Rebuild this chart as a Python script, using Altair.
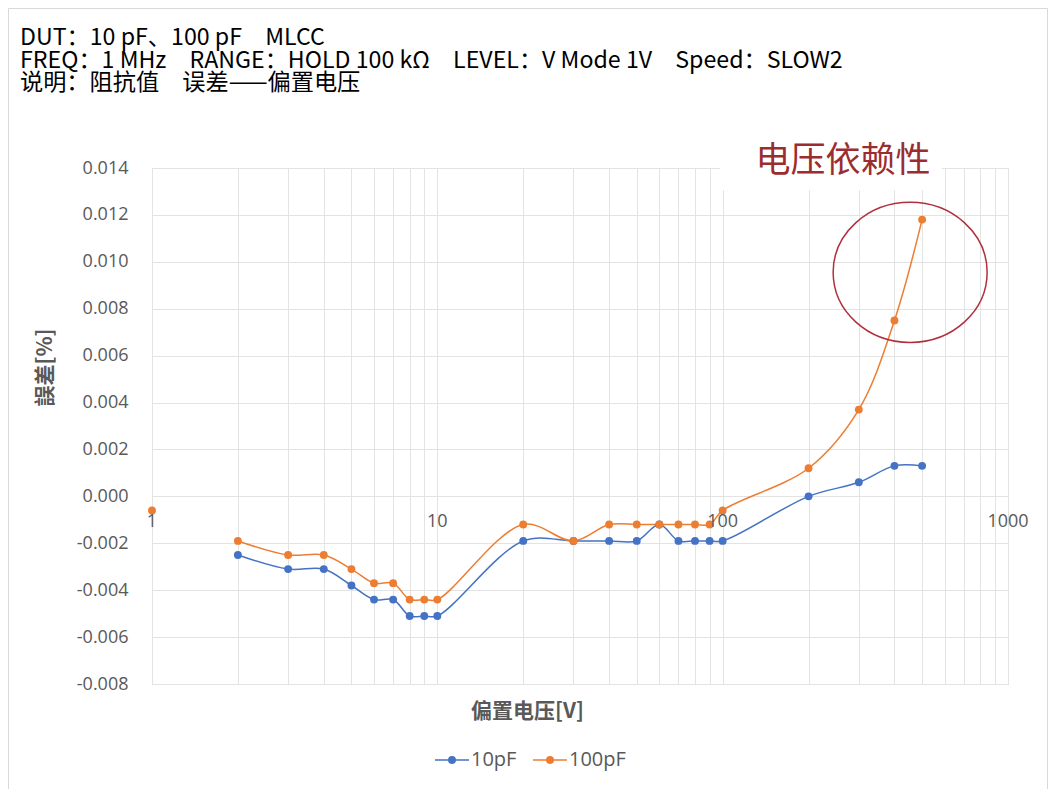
import altair as alt
import pandas as pd

# ---------------- data ----------------
v_10pF = [2, 3, 4, 5, 6, 7, 8, 9, 10, 20, 30, 40, 50, 60, 70, 80, 90, 100, 200, 300, 400, 500]
e_10pF = [-0.0025, -0.0031, -0.0031, -0.0038, -0.0044, -0.0044, -0.0051, -0.0051, -0.0051,
          -0.0019, -0.0019, -0.0019, -0.0019, -0.0012, -0.0019, -0.0019, -0.0019, -0.0019,
          0.0000, 0.0006, 0.0013, 0.0013]
v_100pF = [2, 3, 4, 5, 6, 7, 8, 9, 10, 20, 30, 40, 50, 60, 70, 80, 90, 100, 200, 300, 400, 500]
e_100pF = [-0.0019, -0.0025, -0.0025, -0.0031, -0.0037, -0.0037, -0.0044, -0.0044, -0.0044,
           -0.0012, -0.0019, -0.0012, -0.0012, -0.0012, -0.0012, -0.0012, -0.0012, -0.0006,
           0.0012, 0.0037, 0.0075, 0.0118]
# isolated (unconnected) point of the 100pF series
iso_v_100pF = [1]
iso_e_100pF = [-0.0006]

series_names = ["10pF", "100pF"]
series_colors = ["#4472C4", "#ED7D31"]

x_grid_values = [1, 2, 3, 4, 5, 6, 7, 8, 9, 10, 20, 30, 40, 50, 60, 70, 80, 90,
                 100, 200, 300, 400, 500, 600, 700, 800, 900, 1000]
x_tick_labels = [1, 10, 100, 1000]
y_ticks = [-0.008, -0.006, -0.004, -0.002, 0.0, 0.002, 0.004, 0.006, 0.008, 0.010, 0.012, 0.014]

header_lines = [
    "DUT：10 pF、100 pF\u3000MLCC",
    "FREQ：1 MHz\u3000RANGE：HOLD 100 kΩ\u3000LEVEL：V Mode 1V\u3000Speed：SLOW2",
    "说明：阻抗值\u3000误差——偏置电压",
]
annot_text = "电压依赖性"
annot_pos = {"v": 264, "e": 0.01430}
annot_box = {"v": 98, "v2": 587, "e": 0.0154, "e2": 0.01305}
ellipse_center = {"v": 454, "e": 0.00955}

# ---------------- tables ----------------
rows = []
for v, e in zip(v_10pF, e_10pF):
    rows.append({"v": v, "e": e, "s": "10pF", "line": True})
for v, e in zip(v_100pF, e_100pF):
    rows.append({"v": v, "e": e, "s": "100pF", "line": True})
for v, e in zip(iso_v_100pF, iso_e_100pF):
    rows.append({"v": v, "e": e, "s": "100pF", "line": False})
df = pd.DataFrame(rows)
df["order"] = df["s"].map({"10pF": 0, "100pF": 1})

xscale = alt.Scale(type="log", domain=[1, 1000], nice=False)
yscale = alt.Scale(domain=[-0.008, 0.014], nice=False, zero=False)
cscale = alt.Scale(domain=series_names, range=series_colors)

GRID = "#e3e3e3"
GRAY = "#595959"
FONT = "Open Sans"
CJK = "Noto Sans CJK SC"

x_enc = alt.X("v:Q", scale=xscale,
              axis=alt.Axis(values=x_grid_values, labels=False, ticks=False, domain=False,
                            grid=True, gridColor=GRID, title="偏置电压[V]",
                            titleFont=CJK, titleFontSize=21, titleFontWeight="bold",
                            titleColor=GRAY, titleX=375, titleY=27, titleBaseline="middle"))
y_enc = alt.Y("e:Q", scale=yscale,
              axis=alt.Axis(values=y_ticks, labelExpr="replace(format(datum.value, '.3f'), '\u2212', '-')",
                            domain=False, ticks=False, labelPadding=24, labelColor=GRAY,
                            labelFont=FONT, labelFontSize=18, grid=True, gridColor=GRID,
                            title="誤差[%]", titleFont=CJK, titleFontSize=21,
                            titleFontWeight="bold", titleColor=GRAY, titleAngle=270,
                            titleX=-107, titleY=199, titleBaseline="middle", titleAlign="center"))

base = alt.Chart(df)

lines = base.transform_filter("datum.line").mark_line(
    interpolate="catmull-rom", strokeWidth=1.5
).encode(
    x=x_enc, y=y_enc,
    stroke=alt.Stroke("s:N", scale=cscale, legend=None),
    detail="s:N",
)

points = base.mark_point(filled=True, size=62, opacity=1).encode(
    x="v:Q", y="e:Q",
    color=alt.Color("s:N", scale=cscale, legend=None),
    order="order:Q",
)

xlab_df = pd.DataFrame({"v": x_tick_labels, "e": [0.0] * len(x_tick_labels)})
xlabels = alt.Chart(xlab_df).mark_text(
    font=FONT, fontSize=18, color=GRAY, dy=26, baseline="middle", align="center"
).encode(x="v:Q", y="e:Q", text=alt.Text("v:Q", format="d"))

box = alt.Chart(pd.DataFrame([annot_box])).mark_rect(fill="white").encode(
    x="v:Q", x2="v2:Q", y="e:Q", y2="e2:Q")

annot = alt.Chart(pd.DataFrame([{**annot_pos, "t": annot_text}])).mark_text(
    font=CJK, fontSize=35, color="#9B2D30", align="center", baseline="middle"
).encode(x="v:Q", y="e:Q", text="t:N")

ellipse = alt.Chart(pd.DataFrame([ellipse_center])).mark_point(
    shape="M-1,0A1,0.91,0,1,1,1,0A1,0.91,0,1,1,-1,0Z", filled=False, size=23716,
    stroke="#B0303E", strokeWidth=1.5, opacity=1
).encode(x="v:Q", y="e:Q")

header = alt.Chart(pd.DataFrame([{"a": 1}])).mark_text(
    font=CJK, fontSize=23.2, color="black", align="left", baseline="top", lineHeight=22.5
).encode(x=alt.value(-132), y=alt.value(-141), text=alt.value(header_lines))

frame = alt.Chart(pd.DataFrame([{"a": 1}])).mark_rect(
    fill=None, stroke="#d9d9d9", strokeWidth=1
).encode(x=alt.value(-143.5), x2=alt.value(895.5), y=alt.value(-159.5), y2=alt.value(621.5))

# ---------------- legend (drawn as marks, one item per series) ----------------
LEG_Y = 592
legend_item_x = [283, 381]  # layout: left edge of each legend item
one = pd.DataFrame([{"a": 1}])
legend_layers = []
for name, col, lx in zip(series_names, series_colors, legend_item_x):
    legend_layers.append(alt.Chart(one).mark_rule(color=col, strokeWidth=1.5).encode(
        x=alt.value(lx), x2=alt.value(lx + 34), y=alt.value(LEG_Y)))
    legend_layers.append(alt.Chart(one).mark_point(filled=True, color=col, size=62, opacity=1).encode(
        x=alt.value(lx + 17), y=alt.value(LEG_Y)))
    legend_layers.append(alt.Chart(one).mark_text(
        font=FONT, fontSize=20, color=GRAY, align="left", baseline="middle").encode(
        x=alt.value(lx + 36), y=alt.value(LEG_Y), text=alt.value(name)))

chart = alt.layer(frame, lines, points, xlabels, ellipse, box, annot, header, *legend_layers).properties(
    width=856, height=516,
    autosize=alt.AutoSizeParams(type="none"),
    padding={"left": 144, "top": 160, "right": 40, "bottom": 105},
).configure_view(stroke=None).configure(background="white")

chart.save("out.html", embed_options={"renderer": "svg", "actions": False})
